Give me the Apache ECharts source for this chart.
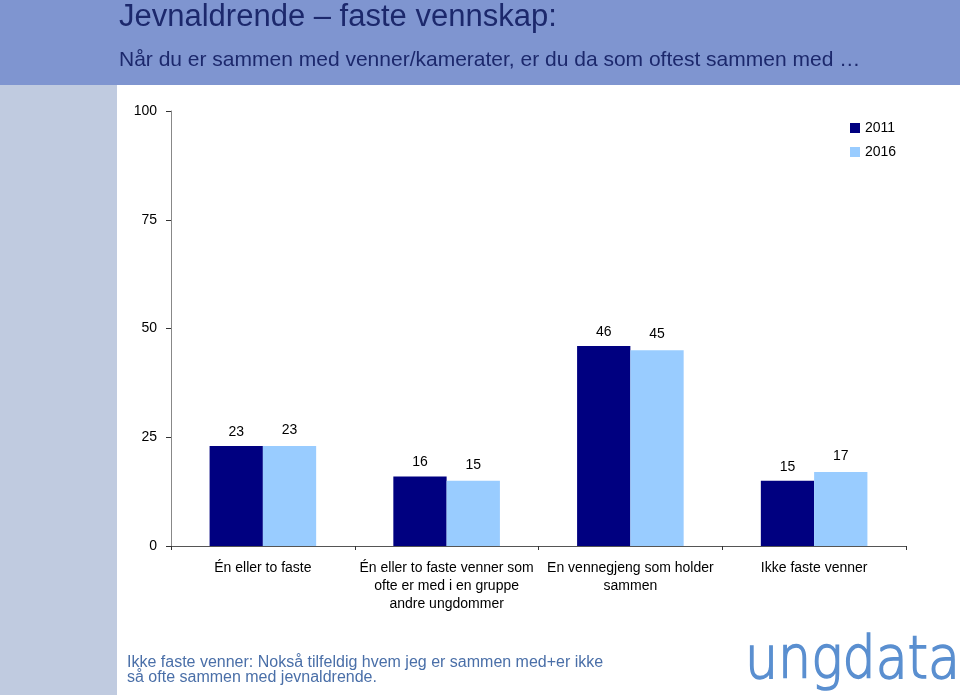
<!DOCTYPE html>
<html><head><meta charset="utf-8">
<script src="https://cdn.jsdelivr.net/npm/echarts@6/dist/echarts.min.js"></script>
<style>html,body{margin:0;padding:0;background:#fff}#c{width:960px;height:695px}</style>
</head><body><div id="c"></div>
<script>
const categories = ["Én eller to faste", "Én eller to faste venner som\nofte er med i en gruppe\nandre ungdommer", "En vennegjeng som holder\nsammen", "Ikke faste venner"];
const values2011 = [23, 16, 46, 15];
const values2016 = [23, 15, 45, 17];
const yTicks = [0, 25, 50, 75, 100];
const seriesNames = ["2011", "2016"];

const chart = echarts.init(document.getElementById('c'), null, {renderer: 'canvas'});
const F = '"Liberation Sans", Arial, sans-serif';
chart.setOption({
  animation: false,
  backgroundColor: '#ffffff',
  textStyle: {fontFamily: F},
  graphic: [
    {type: 'rect', left: 0, top: 0, shape: {width: 960, height: 85}, style: {fill: '#7f95d0'}, z: -10},
    {type: 'rect', left: 0, top: 85, shape: {width: 117, height: 610}, style: {fill: '#c0cbe0'}, z: -10},
    {type: 'text', left: 119, top: 2, style: {text: 'Jevnaldrende – faste vennskap:', fill: '#1c286c', font: '31px ' + F}},
    {type: 'text', left: 119, top: 50, style: {text: 'Når du er sammen med venner/kamerater, er du da som oftest sammen med …', fill: '#1c286c', font: '21px ' + F}},
    {type: 'text', left: 127, top: 655, style: {text: 'Ikke faste venner: Nokså tilfeldig hvem jeg er sammen med+er ikke\nså ofte sammen med jevnaldrende.', fill: '#4a6fa8', font: '16px ' + F, lineHeight: 15}},
    {type: 'text', x: 745, y: 634, scaleX: 0.9, scaleY: 1, originX: 0, originY: 0,
     style: {text: 'ungdata', fill: '#5a8fd0', stroke: '#5a8fd0', lineWidth: 1.6, font: '200 58px "DejaVu Sans", sans-serif', align: 'left', verticalAlign: 'top'}}
  ],
  legend: {
    data: seriesNames, orient: 'vertical', left: 845, top: 116,
    itemWidth: 10, itemHeight: 10, itemGap: 10, icon: 'rect',
    textStyle: {fontSize: 14, color: '#000', fontFamily: F}
  },
  grid: {left: 171, right: 54, top: 111, bottom: 149, containLabel: false},
  xAxis: {
    type: 'category', data: categories,
    axisLine: {lineStyle: {color: '#555', width: 1}},
    axisTick: {show: true, inside: false, length: 4, lineStyle: {color: '#333'}},
    axisLabel: {interval: 0, color: '#000', fontSize: 14, lineHeight: 18, margin: 13, fontFamily: F}
  },
  yAxis: {
    type: 'value', min: 0, max: 100, interval: 25,
    axisLine: {show: true, lineStyle: {color: '#888', width: 1}},
    axisTick: {show: true, length: 5, lineStyle: {color: '#333'}},
    splitLine: {show: false},
    axisLabel: {color: '#000', fontSize: 14, margin: 14, fontFamily: F}
  },
  series: [
    {name: seriesNames[0], type: 'bar', data: values2011, barGap: '0%', barCategoryGap: '42%',
     itemStyle: {color: '#000080'},
     label: {show: true, position: 'top', distance: 7, color: '#000', fontSize: 14, fontFamily: F}},
    {name: seriesNames[1], type: 'bar', data: values2016,
     itemStyle: {color: '#99ccff'},
     label: {show: true, position: 'top', distance: 9, color: '#000', fontSize: 14, fontFamily: F}}
  ]
});
</script></body></html>
